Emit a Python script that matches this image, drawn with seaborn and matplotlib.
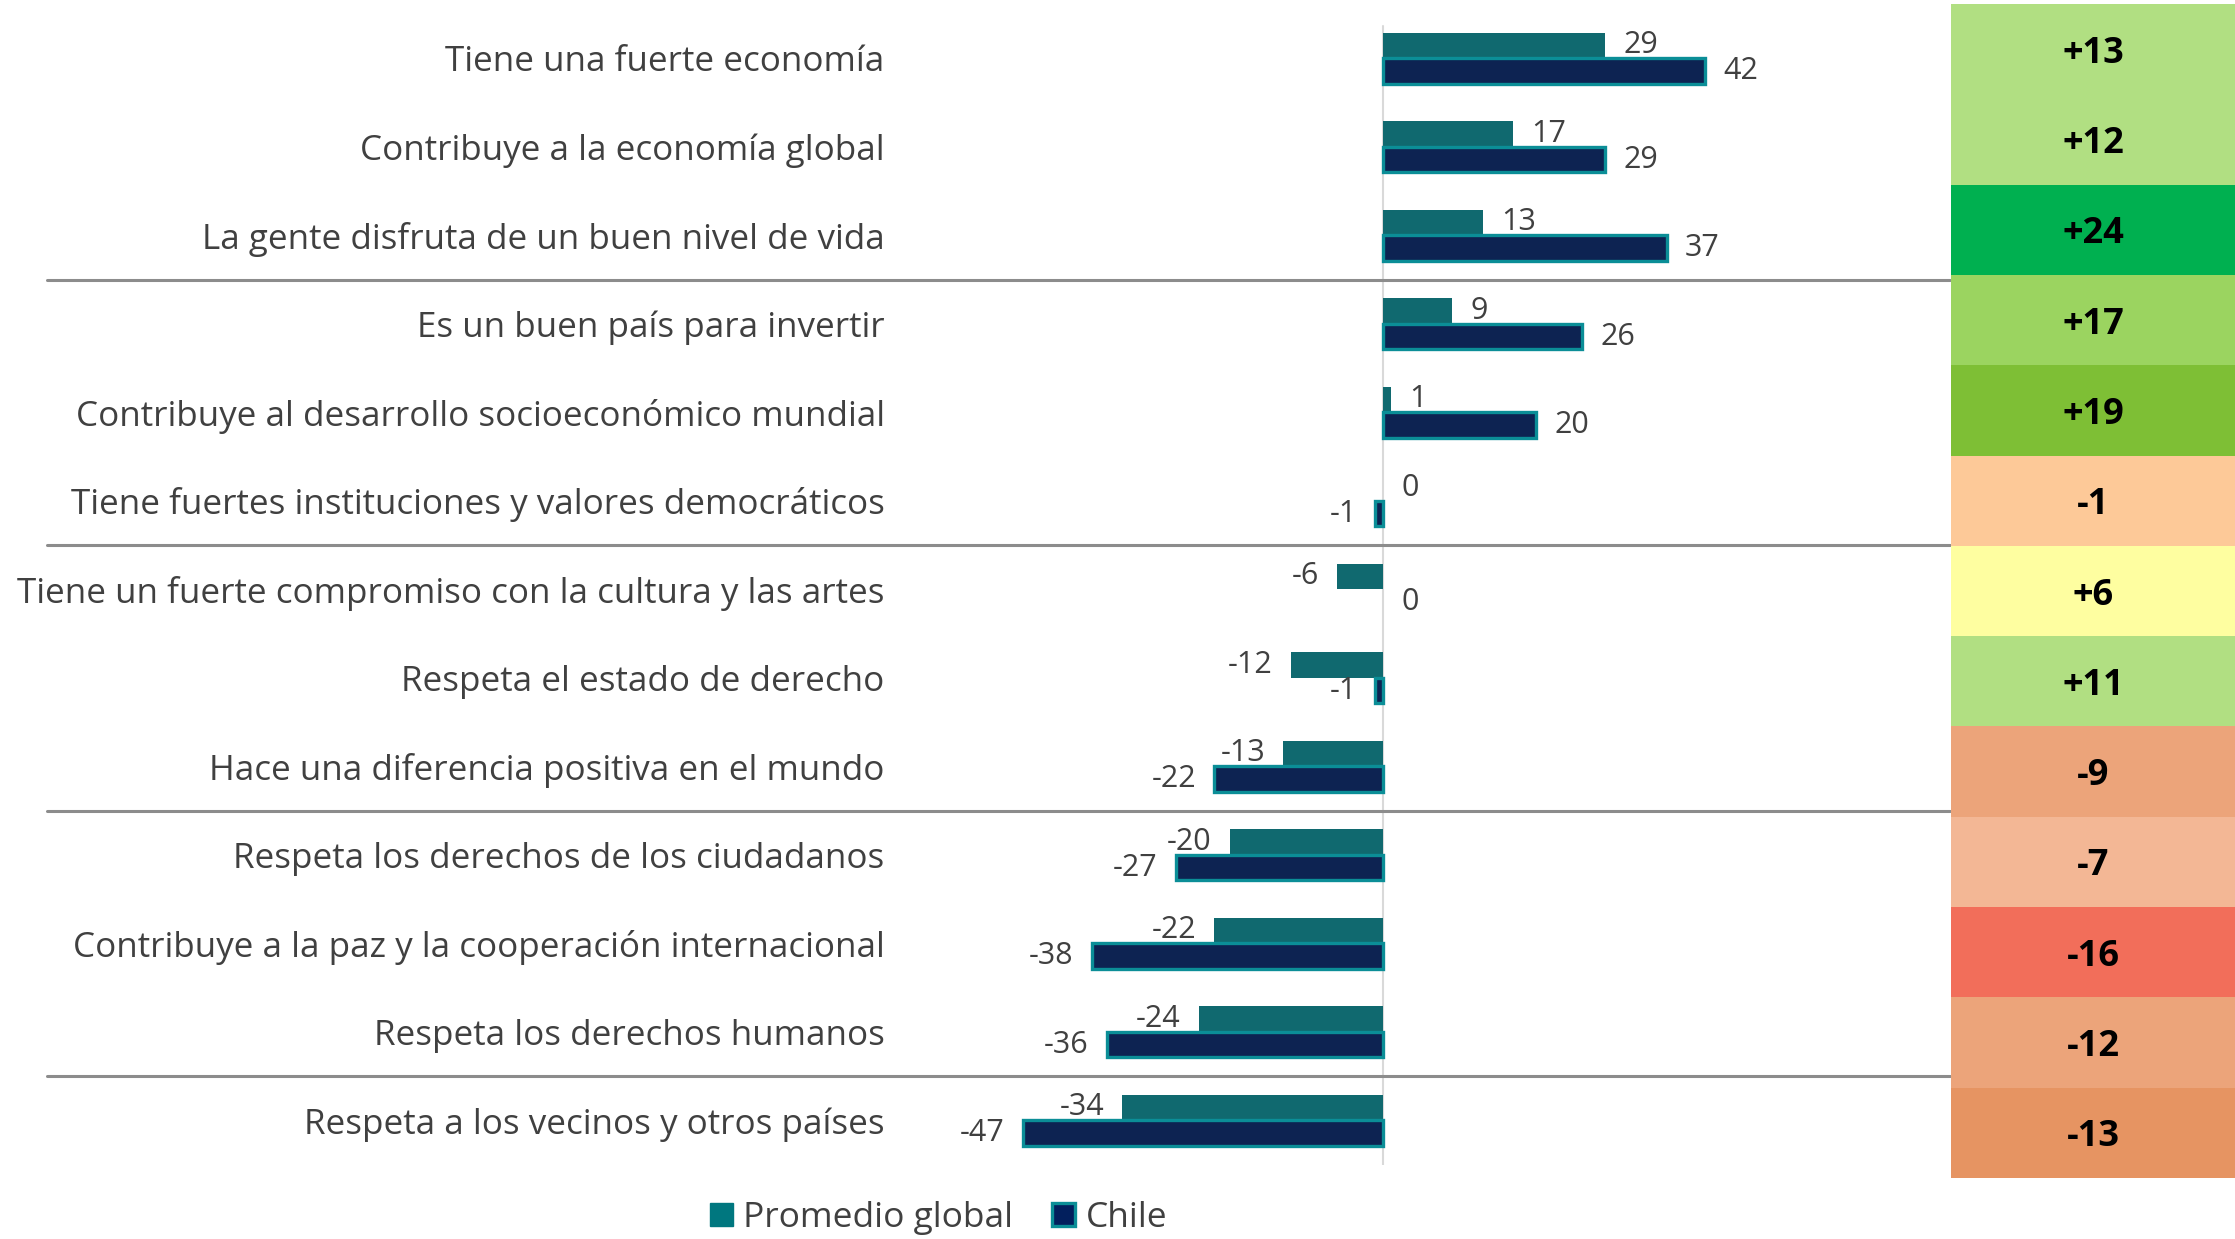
import matplotlib
matplotlib.use('Agg')
import matplotlib.pyplot as plt
import matplotlib.colors as mcolors
from matplotlib.patches import Patch
import numpy as np
import pandas as pd
import seaborn as sns

categorias = [
    'Tiene una fuerte economía',
    'Contribuye a la economía global',
    'La gente disfruta de un buen nivel de vida',
    'Es un buen país para invertir',
    'Contribuye al desarrollo socioeconómico mundial',
    'Tiene fuertes instituciones y valores democráticos',
    'Tiene un fuerte compromiso con la cultura y las artes',
    'Respeta el estado de derecho',
    'Hace una diferencia positiva en el mundo',
    'Respeta los derechos de los ciudadanos',
    'Contribuye a la paz y la cooperación internacional',
    'Respeta los derechos humanos',
    'Respeta a los vecinos y otros países',
]
promedio_global = [29, 17, 13, 9, 1, 0, -6, -12, -13, -20, -22, -24, -34]
chile = [42, 29, 37, 26, 20, -1, 0, -1, -22, -27, -38, -36, -47]
diferencia = [13, 12, 24, 17, 19, -1, 6, 11, -9, -7, -16, -12, -13]
colores_celda = ['#b1df82', '#b1df82', '#00b050', '#9bd460', '#7ebf35', '#fdc998', '#fefea0',
                 '#b1df82', '#eca47a', '#f3b795', '#f26e5a', '#eca47a', '#e69462']
separadores = [2.5, 5.5, 8.5, 11.5]

teal = '#00777f'
navy = '#021f5d'
borde = '#0b8e97'
gris_texto = '#404040'

sns.set_style('white')
plt.rcParams['font.family'] = ['Open Sans', 'DejaVu Sans']

df = pd.DataFrame({
    'categoria': categorias * 2,
    'valor': promedio_global + chile,
    'serie': ['Promedio global'] * len(categorias) + ['Chile'] * len(categorias),
})

fig = plt.figure(figsize=(22.35, 12.39), dpi=100)
ax = fig.add_axes([900 / 2235, 1 - 1164.5 / 1239, 1050 / 2235, 1150.5 / 1239])

sns.barplot(data=df, y='categoria', x='valor', hue='serie', orient='h', ax=ax,
            hue_order=['Promedio global', 'Chile'],
            palette={'Promedio global': teal, 'Chile': navy},
            width=0.58, gap=0, legend=False, errorbar=None)

for p in ax.containers[0]:
    p.set_edgecolor(teal)
    p.set_linewidth(0)
for p, v in zip(ax.containers[1], chile):
    p.set_edgecolor(borde)
    p.set_linewidth(2.4 if v != 0 else 0)

ax.bar_label(ax.containers[0], labels=[str(v) for v in promedio_global], padding=13,
             fontsize=22, color=gris_texto)
ax.bar_label(ax.containers[1], labels=[str(v) for v in chile], padding=13,
             fontsize=22, color=gris_texto)
for t in ax.texts:
    t.set_y(t.get_position()[1] + 0.04)

px_unidad = 7.67
ax.set_xlim(-(1383 - 900) / px_unidad, (1950 - 1383) / px_unidad)
ax.set_ylim(12.5, -0.5)
ax.axvline(0, color='#d9d9d9', lw=1.5, zorder=0, ymax=0.99, ymin=0.0)
for s in separadores:
    ax.axhline(s, xmin=(47 - 900) / 1050, xmax=1, color='#8c8c8c', lw=2.2, clip_on=False)

ax.set_xticks([])
ax.set_xlabel('')
ax.set_ylabel('')
ax.tick_params(axis='y', length=0, pad=11, labelsize=25.2, labelcolor=gris_texto)
sns.despine(ax=ax, left=True, bottom=True)

# columna de diferencias
hax = fig.add_axes([1951 / 2235, 1 - 1178 / 1239, 284 / 2235, 1174 / 1239])
orden = np.argsort(diferencia)
cmap = mcolors.ListedColormap([colores_celda[i] for i in orden])
vals = np.sort(diferencia)
limites = np.concatenate([[vals[0] - 0.5], (vals[:-1] + vals[1:]) / 2, [vals[-1] + 0.5]])
norm = mcolors.BoundaryNorm(limites, cmap.N)
etiquetas = np.array([f'{d:+d}' for d in diferencia]).reshape(-1, 1)
sns.heatmap(np.array(diferencia).reshape(-1, 1), ax=hax, cmap=cmap, norm=norm, cbar=False,
            annot=etiquetas, fmt='', xticklabels=False, yticklabels=False,
            annot_kws={'fontsize': 26, 'fontweight': 'bold', 'color': 'black'})
for t in hax.texts:
    t.set_y(t.get_position()[1] + 0.05)

handles = [Patch(facecolor=teal, edgecolor=teal, label='Promedio global'),
           Patch(facecolor=navy, edgecolor=borde, linewidth=2.4, label='Chile')]
fig.legend(handles=handles, loc='center', bbox_to_anchor=(0.42, 0.017), ncol=2, frameon=False,
           fontsize=25.5, handlelength=0.65, handleheight=0.65, handletextpad=0.3,
           columnspacing=1.1, labelcolor=gris_texto)

fig.savefig('out.png', dpi=100)
